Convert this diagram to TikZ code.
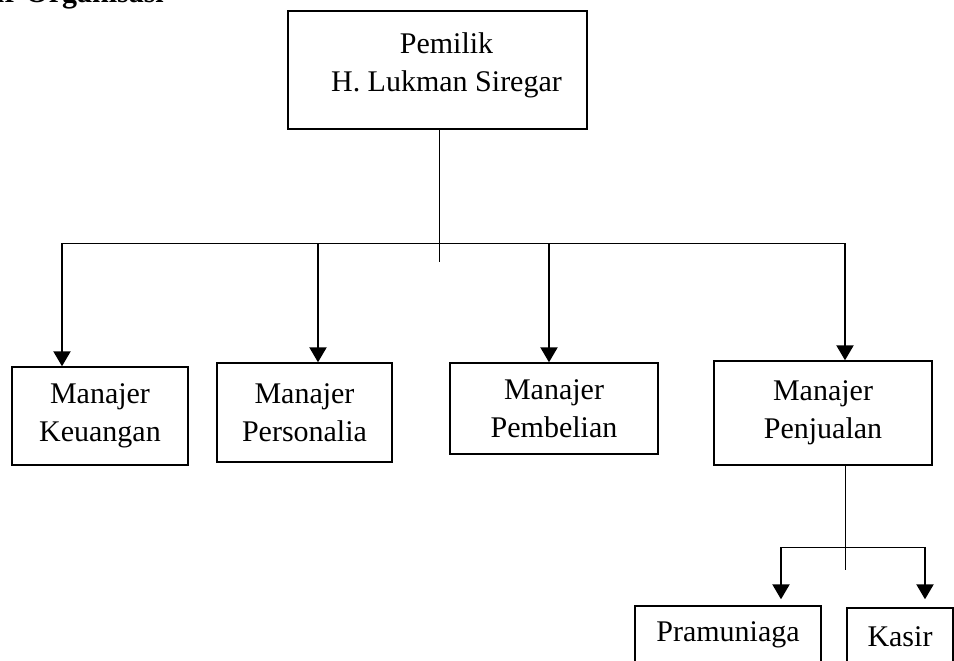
\documentclass[tikz,border=0pt]{standalone}
\usepackage{fontspec}
\setmainfont{Liberation Serif}
\usetikzlibrary{arrows.meta,positioning,calc}

\begin{document}
\begin{tikzpicture}[x=1pt,y=-1pt,
  unit/.style={draw,line width=1.4pt,align=center,inner sep=0pt,
    font=\fontsize{30}{38}\selectfont},
  link/.style={line width=1pt},
  down/.style={line width=2.2pt,-{Triangle[width=17pt,length=15pt]}}]
  \useasboundingbox (0,0) rectangle (954,661);
  \node[font=\bfseries\fontsize{30}{36}\selectfont,anchor=base east,inner sep=0pt]
    (title) at (164,3) {Struktur Organisasi};
  % pemilik
  \node[unit,minimum width=299pt,minimum height=118pt] (owner) at (437.5,70)
    {\hspace{18pt}Pemilik\\\hspace{18pt}H. Lukman Siregar\\[-22pt]\mbox{}};
  % manajer
  \node[unit,minimum width=176pt,minimum height=98pt] (keu) at (100,416)
    {Manajer\\Keuangan};
  \node[unit,minimum width=175pt,minimum height=99pt] (pers) at (304.5,412.5)
    {Manajer\\Personalia};
  \node[unit,minimum width=208pt,minimum height=91pt] (beli) at (554,408.5)
    {Manajer\\Pembelian};
  \node[unit,minimum width=218pt,minimum height=104pt] (jual) at (823,413)
    {Manajer\\Penjualan};
  % staf penjualan
  \node[unit,minimum width=186pt,minimum height=58pt] (pram) at (728,635)
    {Pramuniaga};
  \node[unit,minimum width=106pt,minimum height=57pt] (kasir) at (900,636.5)
    {Kasir};

  \coordinate (hub) at (439,262);
  \coordinate (tkeu) at (62,243);
  \coordinate (tpers) at (318,243);
  \coordinate (tbeli) at (549,243);
  \coordinate (tjual) at (845,243);
  \draw[link] (hub |- owner.south) -- (hub);
  \draw[link] (tkeu) -- (tjual);
  \draw[down] (tkeu) -- (tkeu |- keu.north);
  \draw[down] (tpers) -- (tpers |- pers.north);
  \draw[down] (tbeli) -- (tbeli |- beli.north);
  \draw[down] (tjual) -- (tjual |- jual.north);

  \coordinate (hub2) at (845,570);
  \coordinate (tpram) at (781,547);
  \coordinate (tkasir) at (925,547);
  \draw[link] (hub2 |- jual.south) -- (hub2);
  \draw[link] (tpram) -- (tkasir);
  \draw[down,shorten >=6pt] (tpram) -- (tpram |- pram.north);
  \draw[down,shorten >=8pt] (tkasir) -- (tkasir |- kasir.north);
\end{tikzpicture}
\end{document}
